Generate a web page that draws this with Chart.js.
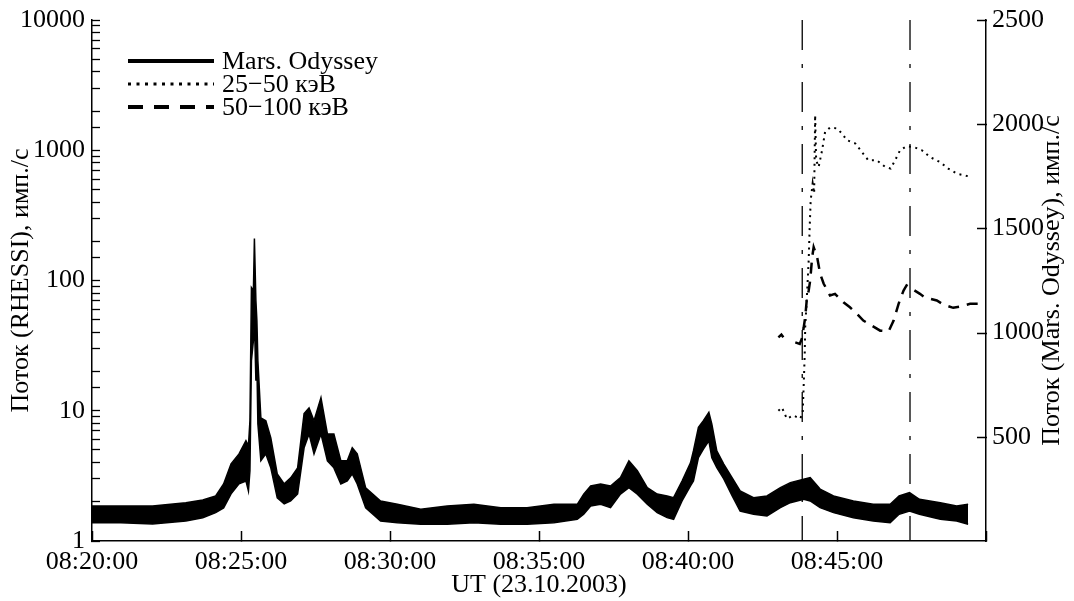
<!DOCTYPE html>
<html>
<head>
<meta charset="utf-8">
<script src="https://cdn.jsdelivr.net/npm/chart.js@4.4.1/dist/chart.umd.min.js"></script>
<style>
  html, body { margin: 0; padding: 0; background: #fff; }
  canvas { display: block; }
</style>
</head>
<body>
<canvas id="chart" width="1074" height="601"></canvas>
<script>
// time axis: seconds after 08:20:00 UT
const xTickLabels = ['08:20:00', '08:25:00', '08:30:00', '08:35:00', '08:40:00', '08:45:00', ''];

// Mars Odyssey count rate, read as the upper and lower edge of the noisy trace
const odysseyTime = [0, 58, 122, 189, 223, 249, 265, 280, 296, 310, 315, 318, 321, 325, 327, 330, 332, 334,
  340, 350, 360, 373, 387, 400, 414, 427, 437, 447, 461, 474, 487, 501, 514, 524, 534, 551, 581, 615,
  662, 715, 769, 823, 876, 930, 977, 990, 1004, 1024, 1044, 1064, 1081, 1098, 1118, 1138, 1158, 1171,
  1188, 1205, 1211, 1221, 1231, 1242, 1248, 1258, 1272, 1289, 1305, 1332, 1359, 1386, 1406, 1433, 1446,
  1466, 1493, 1533, 1573, 1607, 1625, 1646, 1666, 1708, 1741, 1764];
const odysseyUpper = [168, 168, 168, 184, 197, 216, 274, 370, 418, 481, 457, 577, 1216, 1202, 1452, 1154, 1058, 865,
  591, 577, 495, 322, 274, 303, 351, 611, 639, 577, 688, 514, 514, 385, 385, 447, 418, 255, 192, 176,
  152, 168, 176, 160, 160, 176, 176, 225, 264, 273, 264, 304, 385, 337, 256, 225, 216, 208,
  288, 375, 433, 545, 577, 617, 561, 433, 369, 303, 240, 208, 216, 256, 280, 297, 304,
  249, 216, 192, 176, 176, 216, 232, 200, 184, 168, 176];
const odysseyLower = [87, 87, 82, 96, 112, 136, 159, 226, 274, 288, 240, 337, 865, 962, 1058, 769, 851, 562,
  385, 418, 351, 207, 178, 192, 226, 447, 514, 418, 514, 385, 351, 274, 288, 322, 274, 159, 96, 88,
  80, 80, 88, 80, 80, 88, 104, 128, 168, 176, 160, 225, 256, 225, 176, 136, 112, 104,
  192, 264, 288, 400, 441, 481, 400, 352, 298, 216, 144, 128, 120, 160, 184, 200, 192,
  160, 136, 112, 96, 88, 128, 144, 128, 104, 96, 80];

// RHESSI 25-50 keV
const rhessiTime25 = [1382, 1389, 1399, 1412, 1426, 1431, 1433, 1435, 1436, 1439, 1443, 1445, 1447, 1451, 1454,
  1456, 1458, 1463, 1470, 1476, 1486, 1500, 1510, 1520, 1537, 1550, 1563, 1580, 1597, 1608,
  1617, 1627, 1640, 1654, 1671, 1687, 1707, 1724, 1741, 1771];
const rhessi25 = [10, 10.6, 8.7, 9.2, 8.7, 9.7, 16, 27, 44, 70, 143, 257, 412, 557, 467,
  1860, 838, 744, 1000, 1383, 1496, 1469, 1344, 1194, 1127, 970, 838, 838, 744, 723,
  838, 1000, 1073, 1060, 1000, 888, 813, 723, 662, 623];

// RHESSI 50-100 keV (null = gap in the record)
const rhessiTime50 = [1382, 1388, 1392, 1404, 1416, 1425, 1429, 1433, 1436, 1439, 1443, 1446, 1450, 1453,
  1460, 1466, 1473, 1486, 1496, 1513, 1526, 1540, 1553, 1570, 1587, 1604, 1614, 1624, 1634,
  1640, 1651, 1667, 1676, 1701, 1714, 1734, 1748, 1768, 1791];
const rhessi50 = [36.6, 38.4, 36.6, null, 33.5, 32.6, 35.6, 43.7, 52.2, 70.2, 83.8, 100, 151, 180,
  151, 113, 94.8, 76.7, 79, 68.1, 62.3, 55.5, 49.2, 45.1, 41.2, 40.7, 49.2, 66.2, 83.8,
  91.6, 86.3, 79, 74.4, 70.2, 65.4, 61.7, 63.1, 66.2, 66.2];

// vertical dash-dot markers
const markerTimes = [1430, 1647];

const legendLabels = ['Mars. Odyssey', '25\u221250 кэВ', '50\u2212100 кэВ'];
const leftTitle = 'Поток (RHESSI), имп./с';
const rightTitle = 'Поток (Mars. Odyssey), имп./с';
const bottomTitle = 'UT (23.10.2003)';

const pts = (xs, ys) => xs.map((x, i) => ({ x: x, y: ys[i] }));

Chart.defaults.font.family = "'Liberation Serif', 'Times New Roman', serif";
Chart.defaults.font.size = 26;
Chart.defaults.color = '#000';

const datasets = [
  {
    data: pts(odysseyTime, odysseyUpper), yAxisID: 'y1',
    borderColor: '#000', backgroundColor: '#000', borderWidth: 1.5,
    fill: '+1', pointRadius: 0, tension: 0
  },
  {
    data: pts(odysseyTime, odysseyLower), yAxisID: 'y1',
    borderColor: '#000', borderWidth: 1.5, fill: false, pointRadius: 0, tension: 0
  },
  {
    data: pts(rhessiTime25, rhessi25), yAxisID: 'y',
    borderColor: '#000', borderWidth: 2, borderDash: [2, 4.5], fill: false, pointRadius: 0
  },
  {
    data: pts(rhessiTime50, rhessi50), yAxisID: 'y',
    borderColor: '#000', borderWidth: 2.5, borderDash: [11, 8], fill: false, pointRadius: 0, spanGaps: false
  }
];
markerTimes.forEach(t => {
  datasets.push({
    data: [{ x: t, y: 10000 }, { x: t, y: 1 }], yAxisID: 'y',
    borderColor: '#000', borderWidth: 1.3, borderDash: [30, 14, 4, 14], fill: false, pointRadius: 0
  });
});

// legend inside the plot, inward ticks of the right axis, right-hand title (reads bottom to top)
const overlay = {
  id: 'overlay',
  afterDraw(chart) {
    const ctx = chart.ctx;
    const a = chart.chartArea;
    const styles = [
      { w: 4, dash: [] },
      { w: 3, dash: [3, 5.5] },
      { w: 4, dash: [15, 11] }
    ];
    ctx.save();
    ctx.strokeStyle = '#000';
    ctx.fillStyle = '#000';
    ctx.font = "26px 'Liberation Serif'";
    ctx.textBaseline = 'middle';
    legendLabels.forEach((label, i) => {
      const y = 61 + i * 23;
      ctx.beginPath();
      ctx.lineWidth = styles[i].w;
      ctx.setLineDash(styles[i].dash);
      ctx.moveTo(128, y);
      ctx.lineTo(214, y);
      ctx.stroke();
      ctx.fillText(label, 222, y + 1);
    });
    ctx.setLineDash([]);

    const s = chart.scales.y1;
    ctx.lineWidth = 1.5;
    s.ticks.forEach(t => {
      if (t.value === 0) return;
      const py = Math.round(s.getPixelForValue(t.value)) + 0.5;
      ctx.beginPath();
      ctx.moveTo(a.right + 1, py);
      ctx.lineTo(a.right - 9, py);
      ctx.stroke();
    });

    ctx.translate(1052, (a.top + a.bottom) / 2);
    ctx.rotate(-Math.PI / 2);
    ctx.textAlign = 'center';
    ctx.fillText(rightTitle, 0, 0);
    ctx.restore();
  }
};

const isDecade = v => Math.abs(Math.log10(v) - Math.round(Math.log10(v))) < 1e-9;
const noVerticalPad = s => { s.paddingTop = 0; s.paddingBottom = 0; };

new Chart(document.getElementById('chart'), {
  type: 'line',
  data: { datasets: datasets },
  options: {
    responsive: false,
    animation: false,
    devicePixelRatio: 1,
    layout: { padding: { top: 20, left: 0, right: 0, bottom: 0 } },
    plugins: { legend: { display: false }, tooltip: { enabled: false } },
    scales: {
      x: {
        type: 'linear', min: 0, max: 1800,
        border: { color: '#000', width: 1.5 },
        grid: { drawOnChartArea: false, tickLength: -10, tickColor: '#000', tickWidth: 1.5 },
        ticks: { stepSize: 300, padding: 16, maxRotation: 0, autoSkip: false,
          callback: (v, i) => xTickLabels[i] },
        title: { display: true, text: bottomTitle, padding: { top: 0, bottom: 0 } },
        afterFit: s => { s.height = 60; }
      },
      y: {
        type: 'logarithmic', position: 'left', min: 1, max: 10000,
        border: { color: '#000', width: 1.5 },
        grid: { drawOnChartArea: false, tickLength: -8, tickColor: '#000', tickWidth: 1.3 },
        ticks: { autoSkip: false, padding: 15, callback: v => isDecade(v) ? String(Math.round(v)) : '' },
        title: { display: true, text: leftTitle, padding: { top: 6, bottom: 0 } },
        afterFit: s => { s.width = 92; noVerticalPad(s); }
      },
      y1: {
        type: 'linear', position: 'right', min: 0, max: 2500,
        border: { color: '#000', width: 1.5 },
        grid: { drawOnChartArea: false, drawTicks: false },
        ticks: { stepSize: 500, padding: 6, callback: v => v === 0 ? '' : String(v) },
        afterFit: s => { s.width = 88; noVerticalPad(s); }
      }
    }
  },
  plugins: [overlay]
});
</script>
</body>
</html>
